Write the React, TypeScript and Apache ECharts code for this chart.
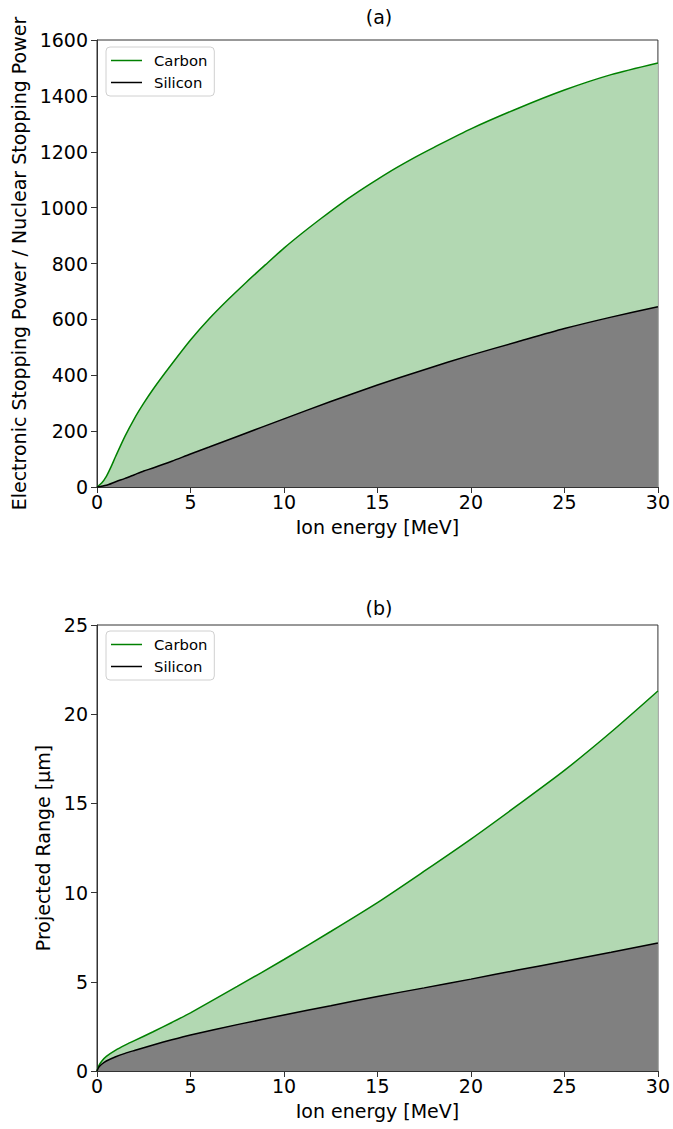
import React, { useEffect, useRef } from "react";
import * as echarts from "echarts";

const energyA = [0, 0.25, 0.5, 0.75, 1, 1.5, 2, 2.5, 3, 4, 5, 6, 7, 8, 9, 10, 11, 12, 13, 14, 15, 16, 17, 18, 20, 22.5, 25, 27.5, 30];
const carbonA = [0, 14, 38, 72, 110, 182, 245, 300, 350, 440, 526, 602, 670, 734, 795, 855, 910, 962, 1012, 1058, 1101, 1142, 1180, 1215, 1282, 1355, 1421, 1476, 1518];
const energySiA = [0, 0.5, 1, 1.5, 2, 2.5, 3, 4, 5, 6, 7.5, 10, 12.5, 15, 17.5, 20, 22.5, 25, 27.5, 30];
const siliconA = [0, 6, 19, 31, 44, 57, 68, 92, 118, 143, 181, 244, 306, 365, 420, 472, 520, 567, 608, 645];

const energyB = [0, 0.1, 0.25, 0.5, 1, 1.5, 2, 3, 4, 5, 7.5, 10, 12.5, 15, 17.5, 20, 22.5, 25, 27.5, 30];
const carbonB = [0, 0.3, 0.55, 0.82, 1.17, 1.45, 1.7, 2.2, 2.72, 3.26, 4.74, 6.25, 7.82, 9.44, 11.2, 13.0, 14.9, 16.85, 19.0, 21.3];
const siliconB = [0, 0.22, 0.38, 0.56, 0.8, 0.99, 1.15, 1.46, 1.75, 2.02, 2.6, 3.14, 3.66, 4.18, 4.66, 5.15, 5.66, 6.15, 6.66, 7.18];

const xTicks = { min: 0, max: 30, interval: 5 };
const yTicksA = { min: 0, max: 1600, interval: 200 };
const yTicksB = { min: 0, max: 25, interval: 5 };

const FONT = "DejaVu Sans";
const FS = 19;
const GREEN = "#008000";
const GREEN_FILL = "#b2d8b2";
const GREY_FILL = "#808080";

const zip = (xs: number[], ys: number[]) => xs.map((x, i) => [x, ys[i]]);

export default function App() {
  const ref = useRef<HTMLDivElement>(null);
  useEffect(() => {
    document.body.style.margin = "0";
    const chart = echarts.init(ref.current!, undefined, { renderer: "svg" });
    const axisCommon = {
      type: "value" as const,
      axisLine: { show: true, onZero: false, lineStyle: { color: "#333", width: 1 } },
      axisTick: { show: true, length: 6, lineStyle: { color: "#333", width: 1 } },
      splitLine: { show: false },
    };
    const fmt = (v: number) => String(v);
    const xAxisFor = (gi: number) => ({
      ...axisCommon,
      gridIndex: gi,
      ...xTicks,
      name: "Ion energy [MeV]",
      nameLocation: "middle",
      nameGap: 30,
      nameTextStyle: { fontFamily: FONT, fontSize: FS, color: "#000" },
      axisLabel: { margin: 5, fontFamily: FONT, fontSize: FS, color: "#000", formatter: fmt },
    });
    const yAxisFor = (gi: number, ticks: any, name: string, gap: number) => ({
      ...axisCommon,
      gridIndex: gi,
      ...ticks,
      name,
      nameLocation: "middle",
      nameGap: gap,
      nameTextStyle: { fontFamily: FONT, fontSize: FS, color: "#000" },
      axisLabel: { margin: 9, fontFamily: FONT, fontSize: FS, color: "#000", formatter: fmt },
    });
    const legendFor = (top: number) => ({
      left: 106,
      top,
      orient: "vertical",
      data: ["Carbon", "Silicon"],
      icon: "rect",
      itemWidth: 31,
      itemHeight: 1.5,
      itemGap: 7,
      padding: [6, 7, 6, 5],
      backgroundColor: "rgba(255,255,255,0.8)",
      borderColor: "#d0d0d0",
      borderWidth: 1,
      borderRadius: 4,
      textStyle: { fontFamily: FONT, fontSize: 14.8, color: "#000", padding: [0, 0, 0, 7] },
      selectedMode: false,
    });
    const carbonSeries = (gi: number, data: number[][]) => ({
      name: "Carbon",
      type: "line",
      xAxisIndex: gi,
      yAxisIndex: gi,
      data,
      showSymbol: false,
      symbol: "none",
      smooth: 0.25,
      z: 2,
      itemStyle: { color: GREEN },
      lineStyle: { color: GREEN, width: 1.5 },
      areaStyle: { color: GREEN_FILL, opacity: 1 },
    });
    const siliconSeries = (gi: number, data: number[][]) => ({
      name: "Silicon",
      type: "line",
      xAxisIndex: gi,
      yAxisIndex: gi,
      data,
      showSymbol: false,
      symbol: "none",
      smooth: 0.25,
      z: 3,
      itemStyle: { color: "#000" },
      lineStyle: { color: "#000", width: 1.5 },
      areaStyle: { color: GREY_FILL, opacity: 1 },
    });
    const titleStyle = { fontFamily: FONT, fontSize: FS, fontWeight: "normal", color: "#000" };
    chart.setOption({
      animation: false,
      backgroundColor: "#fff",
      title: [
        { text: "(a)", left: 379, top: 7, textAlign: "center", padding: 0, textStyle: titleStyle },
        { text: "(b)", left: 379, top: 598, textAlign: "center", padding: 0, textStyle: titleStyle },
      ],
      grid: [
        { left: 97, width: 564, top: 40, height: 447, show: true, borderColor: "#333", borderWidth: 1, backgroundColor: "transparent" },
        { left: 97, width: 564, top: 625, height: 446, show: true, borderColor: "#333", borderWidth: 1, backgroundColor: "transparent" },
      ],
      legend: [legendFor(47), legendFor(631)],
      xAxis: [xAxisFor(0), xAxisFor(1)],
      yAxis: [
        yAxisFor(0, yTicksA, "Electronic Stopping Power / Nuclear Stopping Power", 64),
        yAxisFor(1, yTicksB, "Projected Range [μm]", 39),
      ],
      series: [
        carbonSeries(0, zip(energyA, carbonA)),
        siliconSeries(0, zip(energySiA, siliconA)),
        carbonSeries(1, zip(energyB, carbonB)),
        siliconSeries(1, zip(energyB, siliconB)),
      ],
    });
    return () => chart.dispose();
  }, []);
  return <div ref={ref} style={{ width: 673, height: 1129 }} />;
}
